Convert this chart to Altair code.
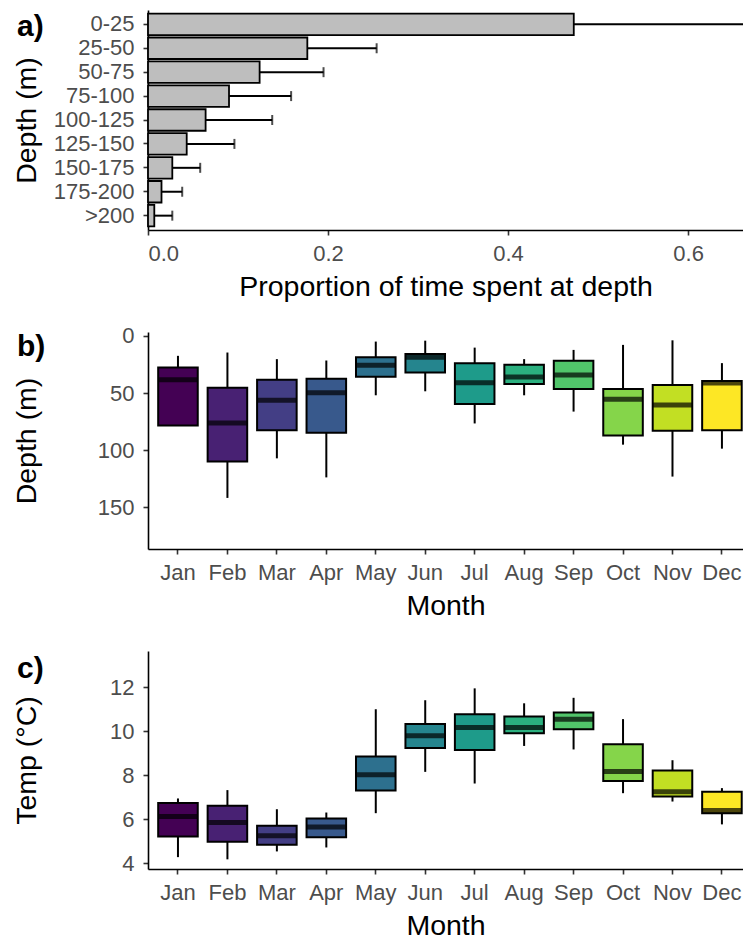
import altair as alt
import pandas as pd

# a) proportion of time at depth (mean and upper error)
depth_bins = ["0-25", "25-50", "50-75", "75-100", "100-125",
              "125-150", "150-175", "175-200", ">200"]
prop_mean = [0.473, 0.177, 0.124, 0.090, 0.064, 0.043, 0.027, 0.015, 0.007]
prop_upper = [0.671, 0.254, 0.195, 0.159, 0.138, 0.096, 0.058, 0.038, 0.027]

# b) monthly depth boxplots
months = ["Jan", "Feb", "Mar", "Apr", "May", "Jun",
          "Jul", "Aug", "Sep", "Oct", "Nov", "Dec"]
depth_min = [17.4, 14.5, 20.3, 21.5, 4.9, 4.1, 10.2, 20.3, 12.2, 7.8, 3.8, 23.8]
depth_q1 = [27.6, 45.3, 38.4, 37.5, 18.6, 15.7, 23.8, 25.3, 21.8, 46.5, 43.0, 39.5]
depth_med = [38.4, 76.2, 56.4, 49.7, 25.6, 18.6, 41.0, 36.0, 34.3, 55.5, 60.5, 41.3]
depth_q3 = [78.5, 110.0, 82.6, 84.9, 35.8, 32.0, 59.6, 42.2, 46.5, 87.2, 83.1, 82.6]
depth_max = [78.5, 142.0, 107.3, 124.0, 52.0, 48.5, 76.7, 52.0, 66.3, 95.3, 123.3, 98.8]

# c) monthly temperature boxplots
temp_min = [4.27, 4.17, 4.53, 4.71, 6.27, 8.15, 7.62, 9.33, 9.17, 7.18, 6.80, 5.76]
temp_q1 = [5.21, 4.97, 4.83, 5.18, 7.30, 9.24, 9.15, 9.91, 10.09, 7.74, 7.03, 6.27]
temp_med = [6.12, 5.85, 5.24, 5.64, 8.02, 9.79, 10.17, 10.17, 10.55, 8.17, 7.24, 6.39]
temp_q3 = [6.73, 6.61, 5.70, 6.03, 8.85, 10.33, 10.77, 10.67, 10.85, 9.41, 8.21, 7.24]
temp_max = [6.94, 7.32, 6.45, 6.30, 11.00, 11.41, 11.95, 11.27, 11.52, 10.55, 8.68, 7.41]

viridis12 = ["#440154", "#482173", "#433E85", "#38598C", "#2D708E", "#25858E",
             "#1E9B8A", "#2BB07F", "#51C56A", "#85D54A", "#C2DF23", "#FDE725"]

FONT = "Liberation Sans"
W = 595
TITLE_X = -113


def panel_label(txt, y):
    return alt.Chart(pd.DataFrame({"lab": [txt]})).mark_text(
        align="left", baseline="alphabetic", fontSize=30, fontWeight="bold",
        font=FONT, color="black"
    ).encode(text="lab:N", x=alt.value(-131), y=alt.value(y))


# ---- panel a
HA = 220
bins_df = pd.DataFrame({"bin": depth_bins, "mean": prop_mean, "upper": prop_upper})
y_bin = alt.Y("bin:N", sort=depth_bins, title="Depth (m)",
              scale=alt.Scale(paddingInner=0.1, paddingOuter=0.15),
              axis=alt.Axis(titleX=TITLE_X, titleY=HA / 2, titleBaseline="alphabetic"))
# the right end of the panel is cropped like the original figure
x_prop = alt.Scale(domain=[0, 0.661], nice=False, zero=False)
x_axis = alt.Axis(values=[0, 0.2, 0.4, 0.6], format=".1f")
x_title = "Proportion of time spent at depth"

bars = alt.Chart(bins_df).mark_bar(fill="#BEBEBE", stroke="black", strokeWidth=1.8).encode(
    x=alt.X("mean:Q", scale=x_prop, axis=x_axis, title=x_title),
    y=y_bin,
)
err = alt.Chart(bins_df).mark_rule(color="black", strokeWidth=2, clip=True).encode(
    x=alt.X("mean:Q", scale=x_prop, title=x_title),
    x2="upper:Q",
    y=y_bin,
)
caps = alt.Chart(bins_df).mark_tick(color="black", thickness=2, size=10, clip=True).encode(
    x=alt.X("upper:Q", scale=x_prop, title=x_title),
    y=y_bin,
)
panel_a = alt.layer(bars, err, caps, panel_label("a)", 26)).properties(width=W, height=HA)


# ---- box panels
def box_panel(lo, q1, med, q3, hi, title, domain, reverse, ticks, height, lab, lab_y):
    df = pd.DataFrame({"month": months, "lo": lo, "q1": q1, "med": med, "q3": q3, "hi": hi})
    x_month = alt.X("month:N", sort=months, title="Month",
                    scale=alt.Scale(paddingInner=0.2, paddingOuter=0.116, align=0.888),
                    axis=alt.Axis(labelAngle=0))
    ys = alt.Scale(domain=domain, reverse=reverse, nice=False, zero=False)
    ax = alt.Axis(values=ticks, titleX=TITLE_X, titleY=height / 2, titleBaseline="alphabetic")
    base = alt.Chart(df)
    whisk = base.mark_rule(color="black", strokeWidth=2).encode(
        x=x_month, y=alt.Y("lo:Q", scale=ys, axis=ax, title=title), y2="hi:Q")
    box = base.mark_bar(stroke="black", strokeWidth=2).encode(
        x=x_month, y=alt.Y("q1:Q", scale=ys, axis=ax, title=title), y2="q3:Q",
        color=alt.Color("month:N", scale=alt.Scale(domain=months, range=viridis12), legend=None))
    medl = base.mark_tick(color="black", thickness=5, size=39).encode(
        x=x_month, y=alt.Y("med:Q", scale=ys, axis=ax, title=title))
    return alt.layer(whisk, box, medl, panel_label(lab, lab_y)).properties(width=W, height=height)


panel_b = box_panel(depth_min, depth_q1, depth_med, depth_q3, depth_max, "Depth (m)",
                    [-3.5, 186.8], True, [0, 50, 100, 150], 217, "b)", 24)
panel_c = box_panel(temp_min, temp_q1, temp_med, temp_q3, temp_max, "Temp (°C)",
                    [3.73, 13.65], False, [4, 6, 8, 10, 12], 218, "c)", 27)

chart = alt.vconcat(
    alt.vconcat(panel_a, panel_b, spacing=23), panel_c, spacing=31
).properties(
    padding={"left": 4, "top": 2, "right": 0, "bottom": 0}
).configure_view(stroke=None).configure_axis(
    labelFont=FONT, titleFont=FONT, labelFontSize=22, titleFontSize=28.5,
    labelColor="#4D4D4D", titleColor="black", titleFontWeight="normal",
    domainColor="black", domainWidth=1.6, tickColor="#333333", tickWidth=1.6,
    tickSize=5, grid=False
).configure_axisX(labelPadding=8, titlePadding=8).configure_axisY(labelPadding=9)

chart.save("out.html", embed_options={"renderer": "svg", "actions": False})
